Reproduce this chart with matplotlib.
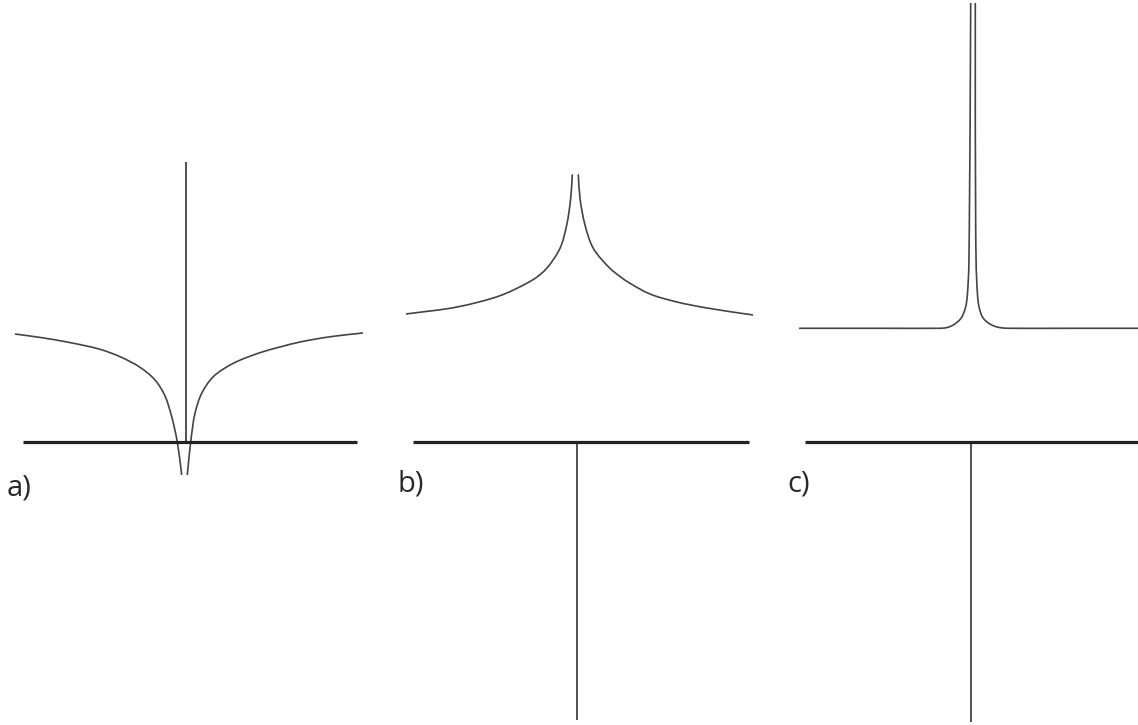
import numpy as np
import matplotlib
matplotlib.use("Agg")
import matplotlib.pyplot as plt
from matplotlib.path import Path
from matplotlib.patches import PathPatch

W, H, DPI = 1138, 725, 100
PX = 100.0   # pixels per data unit
Y0 = 442     # pixel row of the horizontal axes

# panel a) : dip
a_left_x = [-1.705, -1.45, -1.185, -0.855, -0.655, -0.455, -0.305, -0.205, -0.138, -0.082, -0.038]
a_left_y = [1.08, 1.045, 1.00, 0.927, 0.853, 0.747, 0.62, 0.46, 0.253, 0.0, -0.33]
a_right_x = [0.018, 0.052, 0.095, 0.162, 0.278, 0.478, 0.745, 0.945, 1.145, 1.45, 1.775]
a_right_y = [-0.33, 0.0, 0.287, 0.487, 0.653, 0.787, 0.893, 0.95, 1.00, 1.053, 1.09]

# panel b) : cusp peak
b_left_x = [-1.71, -1.20, -0.77, -0.503, -0.40, -0.303, -0.17, -0.103, -0.063, -0.047]
b_left_y = [1.28, 1.35, 1.463, 1.587, 1.65, 1.737, 1.937, 2.17, 2.437, 2.677]
b_right_x = [0.013, 0.03, 0.08, 0.163, 0.33, 0.43, 0.53, 0.73, 1.0, 1.30, 1.76]
b_right_y = [2.677, 2.437, 2.17, 1.937, 1.737, 1.655, 1.587, 1.48, 1.40, 1.34, 1.27]

# panel c) : narrow peak
c_left_x = [-1.723, -0.9, -0.33, -0.296, -0.24, -0.18, -0.103, -0.056, -0.03, -0.02, -0.006]
c_left_y = [1.137, 1.137, 1.137, 1.138, 1.145, 1.17, 1.237, 1.353, 1.62, 2.12, 4.39]
c_right_x = [0.04, 0.044, 0.054, 0.077, 0.12, 0.204, 0.28, 0.354, 0.39, 1.0, 1.667]
c_right_y = [4.39, 2.12, 1.62, 1.353, 1.237, 1.17, 1.145, 1.138, 1.137, 1.137, 1.137]

# axes lines per panel: horizontal extent, vertical extent
h_ext = {"a": (-1.625, 1.715), "b": (-1.64, 1.72), "c": (-1.663, 1.667)}
v_ext = {"a": (0.0, 2.80), "b": (0.0, -2.78), "c": (0.0, -2.80)}
labels = {"a": "a)", "b": "b)", "c": "c)"}

# layout: (left px, right px, center px, label x, label baseline)
layout = {
    "a": (0, 380, 185.5, -1.785, -0.535),
    "b": (380, 770, 577.0, -1.80, -0.50),
    "c": (770, 1138, 971.3, -1.843, -0.50),
}
curves = {
    "a": [(a_left_x, a_left_y), (a_right_x, a_right_y)],
    "b": [(b_left_x, b_left_y), (b_right_x, b_right_y)],
    "c": [(c_left_x, c_left_y), (c_right_x, c_right_y)],
}


def smooth_path(xs, ys, alpha=0.5):
    # centripetal catmull-rom through the points, as cubic bezier pieces
    P = np.column_stack([xs, ys]).astype(float)
    P = np.vstack([2 * P[0] - P[1], P, 2 * P[-1] - P[-2]])
    verts = [P[1]]
    codes = [Path.MOVETO]
    for i in range(1, len(P) - 2):
        p0, p1, p2, p3 = P[i - 1], P[i], P[i + 1], P[i + 2]
        t0 = 0.0
        t1 = t0 + np.linalg.norm(p1 - p0) ** alpha
        t2 = t1 + np.linalg.norm(p2 - p1) ** alpha
        t3 = t2 + np.linalg.norm(p3 - p2) ** alpha
        m1 = ((p1 - p0) / (t1 - t0) - (p2 - p0) / (t2 - t0) + (p2 - p1) / (t2 - t1)) * (t2 - t1)
        m2 = ((p2 - p1) / (t2 - t1) - (p3 - p1) / (t3 - t1) + (p3 - p2) / (t3 - t2)) * (t2 - t1)
        verts += [p1 + m1 / 3, p2 - m2 / 3, p2]
        codes += [Path.CURVE4] * 3
    return Path(verts, codes)


fig = plt.figure(figsize=(W / DPI, H / DPI), dpi=DPI)
fig.patch.set_facecolor("white")

for key in ["a", "b", "c"]:
    x0, x1, cx, lx, ly = layout[key]
    ax = fig.add_axes([x0 / W, 0, (x1 - x0) / W, 1])
    ax.set_xlim((x0 - cx) / PX, (x1 - cx) / PX)
    ax.set_ylim((Y0 - H) / PX, Y0 / PX)
    ax.axis("off")

    ax.plot(h_ext[key], [0, 0], color="#222222", lw=2.3, solid_capstyle="butt")
    ax.plot([0, 0], v_ext[key], color="#222222", lw=1.1, solid_capstyle="butt")
    for xs, ys in curves[key]:
        ax.add_patch(PathPatch(smooth_path(xs, ys), facecolor="none",
                               edgecolor="#444444", lw=1.2, capstyle="butt"))

    ax.text(lx, ly, labels[key], fontsize=21, family=["Open Sans", "DejaVu Sans"],
            color="#2a2a2a", va="baseline", ha="left")

fig.savefig("out.png", dpi=DPI)
